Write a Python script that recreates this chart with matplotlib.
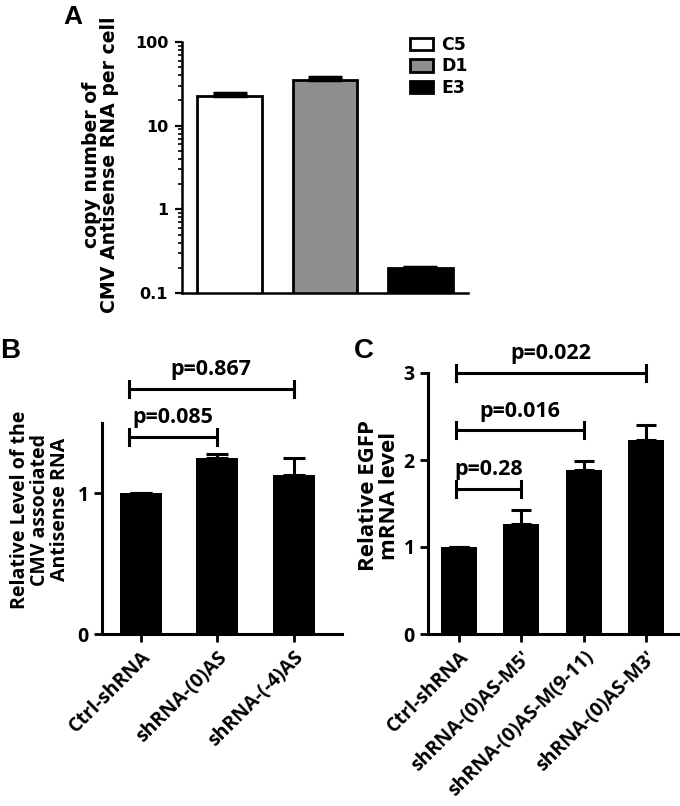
import matplotlib
matplotlib.use("Agg")
import matplotlib.pyplot as plt
from matplotlib.ticker import LogLocator, FixedLocator, NullFormatter

# Panel A data
a_labels = ["C5", "D1", "E3"]
a_values = [22.8, 35.3, 0.2]
a_err = [1.7, 2.5, 0.005]
a_colors = ["white", "#8e8e8e", "black"]

# Panel B data
b_cats = ["Ctrl-shRNA", "shRNA-(0)AS", "shRNA-(-4)AS"]
b_values = [1.0, 1.25, 1.13]
b_err = [0.0, 0.03, 0.12]
b_pairs = [(0, 1), (0, 2)]
b_ptext = ["p=0.085", "p=0.867"]
b_bracket_y = [1.40, 1.74]

# Panel C data
c_cats = ["Ctrl-shRNA", "shRNA-(0)AS-M5\u2032", "shRNA-(0)AS-M(9-11)", "shRNA-(0)AS-M3\u2032"]
c_values = [1.0, 1.27, 1.89, 2.23]
c_err = [0.0, 0.16, 0.10, 0.17]
c_pairs = [(0, 1), (0, 2), (0, 3)]
c_ptext = ["p=0.28", "p=0.016", "p=0.022"]
c_bracket_y = [1.67, 2.34, 3.0]

SANS = ["Open Sans", "DejaVu Sans"]
ARIAL = ["Liberation Sans", "DejaVu Sans"]
WIDE = ["DejaVu Sans"]

fig = plt.figure(figsize=(6.8, 8.06), dpi=100)

# ---------- Panel A ----------
axA = fig.add_axes([182/680, 1-293/806, 286/680, 251/806])
xa = range(len(a_values))
for i in xa:
    axA.bar(i, a_values[i], width=0.68, color=a_colors[i], edgecolor="black",
            linewidth=2.0, label=a_labels[i], zorder=2)
    axA.errorbar(i, a_values[i], yerr=[[0], [a_err[i]]], fmt="none",
                 ecolor="black", elinewidth=2.0, capsize=12, capthick=2.5, zorder=3)
axA.set_yscale("log")
axA.set_ylim(0.1, 100)
axA.set_xlim(-0.5, 2.5)
axA.yaxis.set_major_locator(FixedLocator([0.1, 1, 10, 100]))
axA.set_yticklabels(["0.1", "1", "10", "100"])
axA.yaxis.set_minor_locator(LogLocator(base=10, subs=range(2, 10)))
axA.yaxis.set_minor_formatter(NullFormatter())
axA.set_xticks([])
for s in ["top", "right"]:
    axA.spines[s].set_visible(False)
for s in ["left", "bottom"]:
    axA.spines[s].set_linewidth(1.8)
axA.tick_params(axis="y", which="major", length=5, width=1.6, pad=5, labelsize=11.5)
axA.tick_params(axis="y", which="minor", length=3, width=1.2)
for t in axA.get_yticklabels():
    t.set_family(WIDE)
    t.set_fontweight("bold")
axA.set_ylabel("copy number of\nCMV Antisense RNA per cell", family=WIDE,
               fontweight="bold", fontsize=13.6, linespacing=0.9)
axA.yaxis.set_label_coords(-0.222, 0.51)
leg = axA.legend(loc="upper left", bbox_to_anchor=(410/680, 1-36/806),
                 bbox_transform=fig.transFigure, frameon=False,
                 handlelength=1.3, handleheight=0.75, handletextpad=0.5,
                 labelspacing=0.2, borderpad=0, borderaxespad=0,
                 prop={"family": WIDE, "weight": "bold", "size": 12.5})
fig.text(73/680, 1-24/806, "A", family=ARIAL, fontweight="bold", fontsize=19,
         ha="center", va="baseline")


def style_black_axes(ax):
    for s in ["top", "right"]:
        ax.spines[s].set_visible(False)
    for s in ["left", "bottom"]:
        ax.spines[s].set_linewidth(2.2)
    ax.tick_params(axis="both", length=6, width=2.0, labelsize=14)
    for t in ax.get_yticklabels():
        t.set_family(SANS)
        t.set_fontweight("bold")


def brackets(ax, pairs, ys, texts, cap, left_off):
    for (i, j), y, txt in zip(pairs, ys, texts):
        x0 = i + left_off
        x1 = j
        ax.plot([x0, x1], [y, y], color="black", lw=2.2, clip_on=False,
                solid_capstyle="butt")
        ax.plot([x0, x0], [y - cap, y + cap], color="black", lw=2.2, clip_on=False)
        ax.plot([x1, x1], [y - cap, y + cap], color="black", lw=2.2, clip_on=False)
        ax.text((x0 + x1) / 2, y + 1.1 * cap, txt, ha="center", va="bottom",
                family=SANS, fontweight="bold", fontsize=15.5, clip_on=False)


# ---------- Panel B ----------
axB = fig.add_axes([102/680, 1-634/806, 240/680, 211/806])
xb = list(range(len(b_values)))
axB.bar(xb, b_values, width=0.55, color="black", zorder=2)
axB.errorbar(xb, b_values, yerr=[[0]*len(b_err), b_err], fmt="none",
             ecolor="black", elinewidth=2.2, capsize=8, capthick=2.2, zorder=3)
axB.set_xlim(-0.51, 2.63)
axB.set_ylim(0, 1.5)
axB.set_yticks([0, 1])
axB.set_yticklabels(["0", "1"])
axB.set_xticks(xb)
axB.set_xticklabels(b_cats, rotation=45, ha="right", va="top",
                    rotation_mode="anchor", family=SANS, fontweight="bold", fontsize=16)
style_black_axes(axB)
brackets(axB, b_pairs, b_bracket_y, b_ptext, 0.057, -0.16)
axB.set_ylabel("Relative Level of the\nCMV associated\nAntisense RNA", family=SANS,
               fontweight="bold", fontsize=14, linespacing=1.0)
axB.yaxis.set_label_coords(-0.133, 0.59)
fig.text(10/680, 1-358/806, "B", family=ARIAL, fontweight="bold", fontsize=20,
         ha="center", va="baseline")

# ---------- Panel C ----------
axC = fig.add_axes([428/680, 1-634/806, 252/680, 261/806])
xc = list(range(len(c_values)))
axC.bar(xc, c_values, width=0.58, color="black", zorder=2)
axC.errorbar(xc, c_values, yerr=[[0]*len(c_err), c_err], fmt="none",
             ecolor="black", elinewidth=2.2, capsize=7.5, capthick=2.2, zorder=3)
axC.set_xlim(-0.5, 3.55)
axC.set_ylim(0, 3)
axC.set_yticks([0, 1, 2, 3])
axC.set_xticks(xc)
axC.set_xticklabels(c_cats, rotation=45, ha="right", va="top",
                    rotation_mode="anchor", family=SANS, fontweight="bold", fontsize=16)
style_black_axes(axC)
brackets(axC, c_pairs, c_bracket_y, c_ptext, 0.092, -0.05)
axC.set_ylabel("Relative EGFP\nmRNA level", family=SANS, fontweight="bold",
               fontsize=16, linespacing=1.0)
axC.yaxis.set_label_coords(-0.111, 0.53)
fig.text(364/680, 1-358/806, "C", family=ARIAL, fontweight="bold", fontsize=20,
         ha="center", va="baseline")

fig.savefig("out.png", dpi=100)
